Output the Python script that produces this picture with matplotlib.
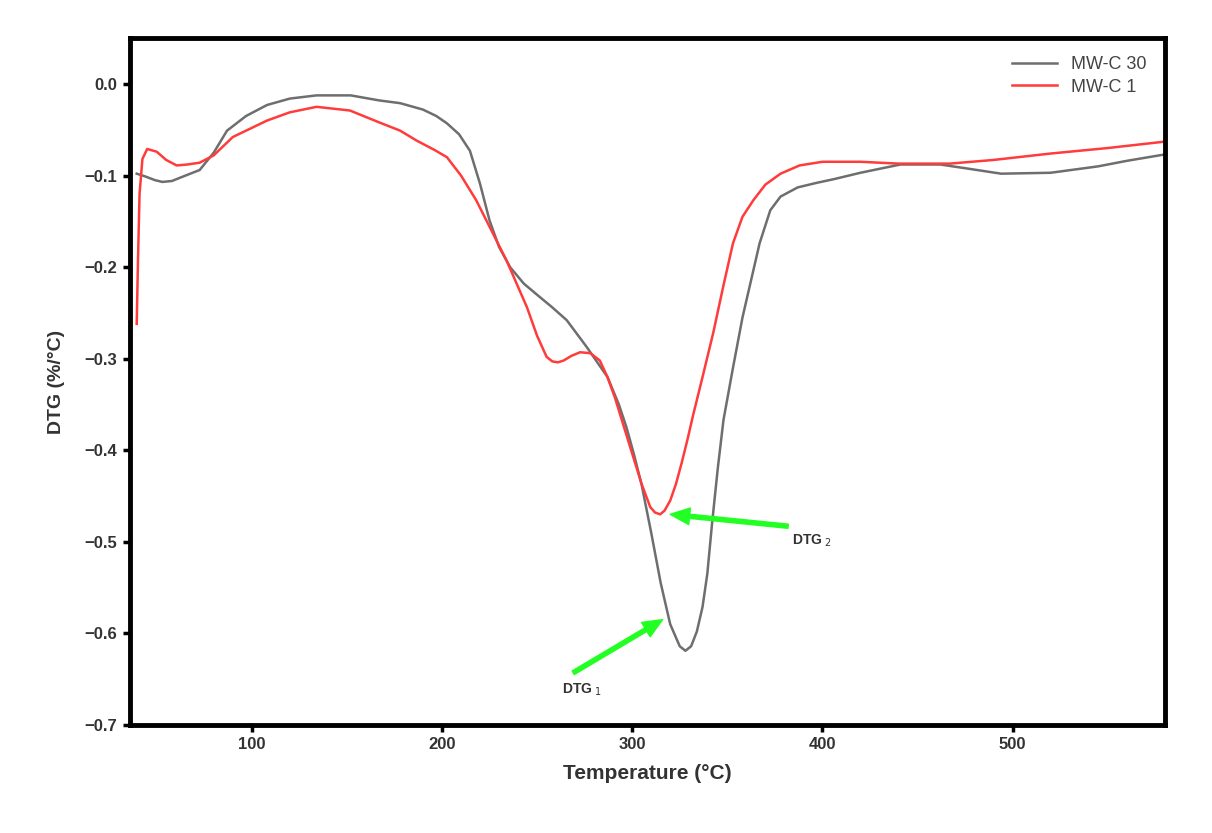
import matplotlib
matplotlib.use('Agg')
import matplotlib.pyplot as plt

plt.rcParams['font.family'] = ['Liberation Sans', 'DejaVu Sans']

# MW-C 30 (gray)
t30 = [39.5, 44, 49, 53, 58, 64, 72.6, 80, 87, 97, 108, 120, 134, 152, 167, 178, 190, 197, 202.6,
       209, 214.7, 220, 225, 230, 235.8, 243, 251.6, 258, 265.6, 276, 287, 293, 297, 301, 305, 310,
       315, 320, 325, 328, 331, 334, 337, 339.5, 342, 345, 348, 353, 358, 363, 367, 372.6, 378, 387,
       397, 406, 420, 441, 462, 475, 494, 520, 545, 560, 580]
v30 = [-0.098, -0.101, -0.105, -0.107, -0.106, -0.101, -0.094, -0.075, -0.051, -0.035, -0.023,
       -0.016, -0.0125, -0.0125, -0.018, -0.021, -0.028, -0.035, -0.043, -0.055, -0.073, -0.109,
       -0.149, -0.178, -0.2, -0.218, -0.233, -0.244, -0.258, -0.287, -0.32, -0.35, -0.375, -0.405,
       -0.438, -0.49, -0.545, -0.59, -0.614, -0.619, -0.614, -0.598, -0.571, -0.535, -0.48, -0.42,
       -0.367, -0.31, -0.255, -0.21, -0.174, -0.138, -0.123, -0.113, -0.108, -0.104, -0.097, -0.088,
       -0.088, -0.092, -0.098, -0.097, -0.09, -0.084, -0.077]

# MW-C 1 (red)
t1 = [39.5, 40.2, 41, 42.5, 45, 50, 55, 60.5, 66, 72.6, 80, 90, 108, 120, 134, 151.6, 167, 178,
      186.8, 196, 202.6, 210, 218, 226, 234, 244.7, 250, 255, 258, 261, 264, 268, 272.6, 278, 283,
      287, 291, 295, 300.5, 305, 309.5, 312, 314.7, 317, 320, 323, 326, 329, 332, 337, 342.6, 348,
      353, 358, 363.7, 370, 378, 388, 400, 420, 440, 467, 490, 520, 550, 580]
v1 = [-0.262, -0.19, -0.12, -0.082, -0.071, -0.074, -0.083, -0.089, -0.088, -0.086, -0.078, -0.058,
      -0.04, -0.031, -0.025, -0.029, -0.042, -0.051, -0.062, -0.072, -0.08, -0.1, -0.127, -0.16,
      -0.193, -0.244, -0.275, -0.298, -0.303, -0.304, -0.302, -0.297, -0.293, -0.294, -0.302,
      -0.32, -0.343, -0.37, -0.407, -0.437, -0.462, -0.468, -0.47, -0.466, -0.455, -0.437, -0.414,
      -0.389, -0.362, -0.32, -0.272, -0.22, -0.174, -0.145, -0.127, -0.11, -0.098, -0.089, -0.085,
      -0.085, -0.087, -0.087, -0.083, -0.076, -0.07, -0.063]

fig = plt.figure(figsize=(12.12, 8.33), dpi=100)
ax = fig.add_axes([0.1073, 0.1297, 0.8537, 0.8245])

ax.plot(t30, v30, color='#6e6e6e', lw=1.8, label='MW-C 30')
ax.plot(t1, v1, color='#ff3b3b', lw=1.8, label='MW-C 1')

ax.set_xlim(36, 580)
ax.set_ylim(-0.7, 0.05)
ax.set_xticks([100, 200, 300, 400, 500])
ax.set_yticks([0.0, -0.1, -0.2, -0.3, -0.4, -0.5, -0.6, -0.7])
ax.set_yticklabels(['0.0', '\u22120.1', '\u22120.2', '\u22120.3', '\u22120.4', '\u22120.5',
                    '\u22120.6', '\u22120.7'])
for s in ax.spines.values():
    s.set_linewidth(3.5)
ax.tick_params(direction='out', length=5, width=2.5, labelsize=12, pad=4)
for lab in ax.get_xticklabels() + ax.get_yticklabels():
    lab.set_fontweight('bold')
    lab.set_color('#333333')

ax.set_xlabel('Temperature (\u00b0C)', fontsize=15, fontweight='bold', color='#333333', labelpad=8)
ax.set_ylabel('DTG (%/\u00b0C)', fontsize=14, fontweight='bold', color='#333333', labelpad=14)

leg = ax.legend(loc='upper right', frameon=False, fontsize=13, handlelength=2.5,
                borderaxespad=0.6, labelspacing=0.3)
for txt in leg.get_texts():
    txt.set_color('#444444')

arrow = dict(facecolor='#22ff22', edgecolor='#22ff22', width=3, headwidth=12, headlength=14)
ax.annotate('', xy=(320, -0.47), xytext=(382, -0.483), arrowprops=arrow)
ax.annotate('', xy=(316, -0.585), xytext=(269, -0.643), arrowprops=arrow)
ax.text(384, -0.499, 'DTG$_{\\ 2}$', fontsize=10, fontweight='bold', color='#333333',
        ha='left', va='center')
ax.text(263, -0.662, 'DTG$_{\\ 1}$', fontsize=10, fontweight='bold', color='#333333',
        ha='left', va='center')

fig.savefig('out.png', dpi=100)
